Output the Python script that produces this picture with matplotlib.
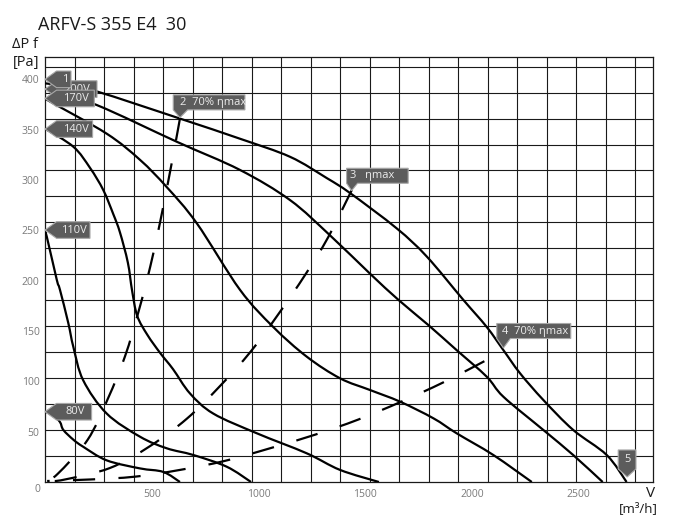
import numpy as np
import matplotlib
matplotlib.use("Agg")
import matplotlib.pyplot as plt
from matplotlib.patches import Polygon, PathPatch
from matplotlib.path import Path
from matplotlib.transforms import IdentityTransform

plt.rcParams['font.family'] = ['Open Sans', 'DejaVu Sans']

# ---------------- data (airflow m3/h, static pressure Pa) ----------------
curve_max_x = [0, 117, 242, 632, 913, 1148, 1319, 1429, 1647, 1788, 1959, 2069, 2147, 2225, 2334, 2474, 2631, 2724]
curve_max_y = [396, 393, 388, 361, 341, 323, 302, 287, 252, 224, 181, 154, 131, 108, 81.5, 51.7, 26.8, 0]

curve_200_x = [0, 242, 617, 913, 1148, 1335, 1522, 1655, 1795, 1928, 2069, 2147, 2334, 2474, 2612]
curve_200_y = [391, 374.5, 338, 310, 280, 245, 207, 181, 156, 131, 104.6, 84.7, 51.7, 26.8, 0]

curve_170_x = [0, 23, 289, 445, 570, 711, 913, 1069, 1226, 1382, 1522, 1663, 1819, 1928, 2100, 2280]
curve_170_y = [381, 378, 346, 320, 293, 257, 191, 154, 124.5, 103, 91.4, 79.8, 63.3, 48.4, 26.8, 0]

curve_140_x = [0, 133, 211, 273, 320, 351, 388, 408, 432, 480, 540, 600, 679, 788, 992, 1226, 1382, 1564]
curve_140_y = [351, 333, 312, 290, 266, 248, 218, 190, 165, 146, 128, 112, 88, 68, 48.4, 28.5, 12, 0]

curve_110_x = [0, 8, 55, 70, 109, 133, 179, 289, 445, 570, 695, 851, 965]
curve_110_y = [247, 244, 201, 191, 158, 134, 101, 68, 45, 33.5, 26.8, 15.2, 0]

curve_80_x = [0, 39, 70, 86, 133, 179, 289, 445, 554, 632]
curve_80_y = [70, 66, 59.6, 51.7, 42, 35, 21.5, 13.5, 10, 0]

# efficiency / system lines (dashed)
eff1_x = [632, 614, 582, 539, 493, 439, 375, 295, 199, 59, 5]
eff1_y = [361, 340, 304, 258, 214, 170, 125, 83, 41.7, 8, 1]

eff2_x = [1437, 1326, 1218, 1094, 964, 820, 665, 493, 304, 89, 23]
eff2_y = [290, 243, 205.6, 167, 129.7, 95.4, 63, 35.8, 13.9, 2.3, 1]

eff3_x = [2058, 1866, 1671, 1467, 1265, 1054, 843, 632, 422, 211, 10]
eff3_y = [120, 99, 80, 62, 47, 33.5, 21, 12, 5.3, 2.5, 1]

x_ticks = [500, 1000, 1500, 2000, 2500]
y_ticks = [50, 100, 150, 200, 250, 300, 350, 400]

voltage_labels = ["200V", "1", "170V", "140V", "110V", "80V"]
voltage_tips = [390.3, 400, 381, 350.6, 250.3, 69.8]

point_labels = ["2  70% \u03b7max", "3   \u03b7max", "4  70% \u03b7max", "5"]
point_tips_x = [632, 1436, 2147, 2727]
point_tips_y = [362, 289.4, 133.1, 5]

# ---------------- figure ----------------
W, H = 677, 519
fig = plt.figure(figsize=(W / 100, H / 100), dpi=100)
L, R, B, T = 45, 652.7, 482, 57.3
ax = fig.add_axes([L / W, (H - B) / H, (R - L) / W, (B - T) / H])
xmax = (R - L) / 0.2135
ymax = (B - T) / 1.0067
ax.set_xlim(0, xmax)
ax.set_ylim(0, ymax)

# grid (not aligned to the tick labels, as in the reference)
for gx in np.arange(1, 21) * (29.5 / 0.2135):
    ax.axvline(gx, color='#1a1a1a', lw=0.8, zorder=0)
for gy in np.arange(1, 17) * (25.96 / 1.0067):
    ax.axhline(gy, color='#1a1a1a', lw=0.8, zorder=0)

for s in ax.spines.values():
    s.set_color('#1a1a1a')
    s.set_linewidth(0.9)

ax.set_xticks(x_ticks)
ax.set_xticklabels([str(v) for v in x_ticks])
ax.set_yticks(y_ticks)
ax.set_yticklabels([str(v) for v in y_ticks])
ax.tick_params(axis='x', length=0, pad=5, labelsize=7.5, labelcolor='#7a7a7a')
ax.tick_params(axis='y', length=0, pad=4, labelsize=7.5, labelcolor='#7a7a7a')


def smooth_path(xs, ys):
    """Bezier path through the read points (Catmull-Rom style tangents)."""
    sx = (R - L) / xmax
    sy = (B - T) / ymax
    P = np.column_stack([np.asarray(xs, float) * sx, np.asarray(ys, float) * sy])
    n = len(P)
    verts = [P[0]]
    codes = [Path.MOVETO]
    for i in range(n - 1):
        p0 = P[i - 1] if i > 0 else P[i]
        p1, p2 = P[i], P[i + 1]
        p3 = P[i + 2] if i + 2 < n else P[i + 1]
        c1 = p1 + (p2 - p0) / 6.0
        c2 = p2 - (p3 - p1) / 6.0
        verts += [c1, c2, p2]
        codes += [Path.CURVE4] * 3
    V = np.array(verts)
    V[:, 0] /= sx
    V[:, 1] /= sy
    return Path(V, codes)


lw = 1.6
for xs, ys in [(curve_max_x, curve_max_y), (curve_200_x, curve_200_y), (curve_170_x, curve_170_y),
               (curve_140_x, curve_140_y), (curve_110_x, curve_110_y), (curve_80_x, curve_80_y)]:
    ax.add_patch(PathPatch(smooth_path(xs, ys), fill=False, edgecolor='black', lw=lw,
                           capstyle='butt', zorder=3))

for xs, ys in [(eff1_x, eff1_y), (eff2_x, eff2_y), (eff3_x, eff3_y)]:
    ax.add_patch(PathPatch(smooth_path(xs, ys), fill=False, edgecolor='black', lw=lw,
                           linestyle=(0, (10, 10.5)), capstyle='butt', zorder=3))

# ---------------- texts ----------------
fig.text(38 / W, (H - 30) / H, "ARFV-S 355 E4  30", fontsize=13, color='#1a1a1a', va='baseline', ha='left')
fig.text(12 / W, (H - 48) / H, "\u0394P f", fontsize=10.5, color='#1a1a1a', va='baseline', ha='left')
fig.text(13 / W, (H - 66) / H, "[Pa]", fontsize=10.5, color='#1a1a1a', va='baseline', ha='left')
fig.text(651 / W, (H - 497) / H, "V", fontsize=11, color='#1a1a1a', va='baseline', ha='center')
fig.text(658 / W, (H - 512) / H, "[m\u00b3/h]", fontsize=9.5, color='#1a1a1a', va='baseline', ha='right')
fig.text(37 / W, (H - 490) / H, "0", fontsize=7.5, color='#7a7a7a', va='center', ha='center')

# ---------------- callouts ----------------
fig.canvas.draw()
FILL, EDGE, TXT = '#5c5c5c', '#a8a8a8', '#ececec'
zc = [10]


def add_poly(tip, offs):
    tx, ty = ax.transData.transform(tip)
    pts = [(tx + dx, ty - dy) for dx, dy in offs]
    p = Polygon(pts, closed=True, facecolor=FILL, edgecolor=EDGE, lw=0.8,
                transform=IdentityTransform(), zorder=zc[0])
    fig.add_artist(p)


def add_text(xpix, ypix, s, ha):
    fig.text(xpix / W, ypix / H, s, fontsize=8, color=TXT, ha=ha, va='center', zorder=zc[0] + 1)
    zc[0] += 2


body_w = {"200V": 52, "1": 26, "170V": 49.3, "140V": 47.6, "110V": 45, "80V": 46.6}
for lab, ty in zip(voltage_labels, voltage_tips):
    w = body_w[lab]
    h = 8.3
    add_poly((0, ty), [(0, 0), (11.5, -h), (w, -h), (w, h), (11.5, h)])
    cx = (11.5 + w) / 2 + 1
    tip = ax.transData.transform((0, ty))
    add_text(tip[0] + cx, tip[1], lab, 'center')

shapes = [
    ([(-6.7, -22.7), (65, -22.7), (65, -7.7), (7.7, -7.7), (0, 0), (-6.7, -7.7)], (0, -15.2)),
    ([(-5, -22.4), (56.6, -22.4), (56.6, -7.4), (6, -7.4), (0, 0), (-5, -7.4)], (-1.5, -14.9)),
    ([(-6.6, -24.5), (67.4, -24.5), (67.4, -9.5), (7, -9.5), (0, 0), (-6.6, -9.5)], (-1.5, -17)),
    ([(-9, -27), (8.7, -27), (8.7, -8), (0, 0), (-9, -8)], None),
]
for lab, px, py, (offs, toff) in zip(point_labels, point_tips_x, point_tips_y, shapes):
    add_poly((px, py), offs)
    tip = ax.transData.transform((px, py))
    if toff is None:
        add_text(tip[0], tip[1] + 17, lab, 'center')
    else:
        add_text(tip[0] + toff[0], tip[1] - toff[1], lab, 'left')

fig.savefig("out.png", dpi=100)
